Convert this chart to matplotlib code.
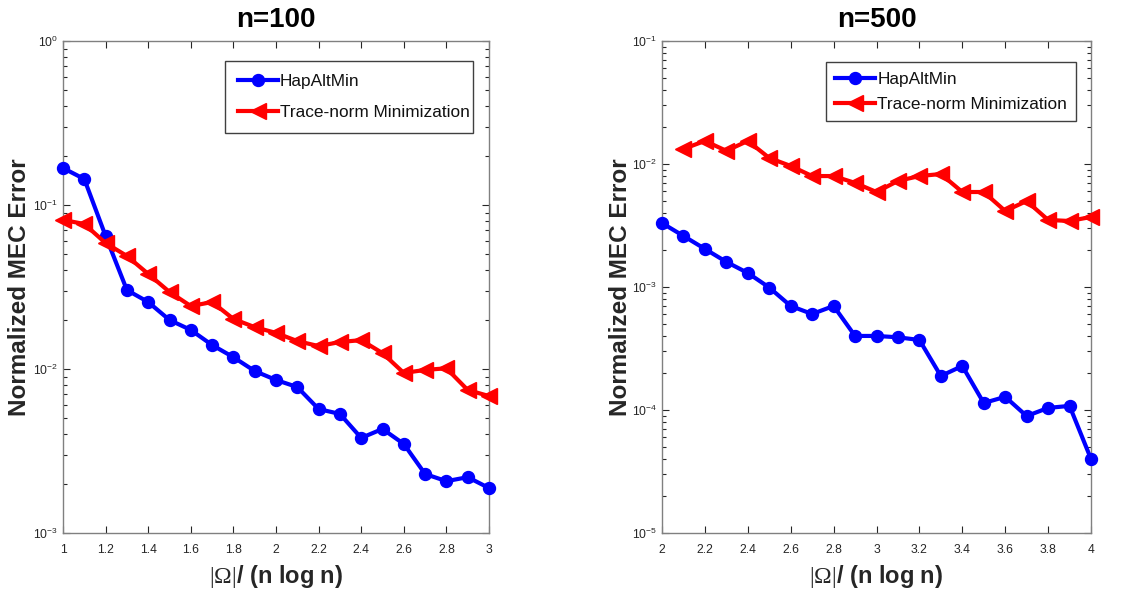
import matplotlib
matplotlib.use("Agg")
import matplotlib.pyplot as plt
import numpy as np
from matplotlib.ticker import LogLocator, FixedLocator, NullFormatter

plt.rcParams['font.family'] = ['Liberation Sans', 'DejaVu Sans']
plt.rcParams['mathtext.fontset'] = 'custom'
plt.rcParams['mathtext.rm'] = 'Liberation Serif'
plt.rcParams['mathtext.it'] = 'Liberation Serif:italic'
plt.rcParams['mathtext.bf'] = 'Liberation Serif:bold'

# ---- data ----
x_n100 = [1.0, 1.1, 1.2, 1.3, 1.4, 1.5, 1.6, 1.7, 1.8, 1.9, 2.0,
          2.1, 2.2, 2.3, 2.4, 2.5, 2.6, 2.7, 2.8, 2.9, 3.0]
hap_n100 = [0.168, 0.144, 0.0647, 0.0303, 0.0256, 0.0199, 0.0173, 0.0140, 0.0118, 0.00972, 0.00857,
            0.00776, 0.00570, 0.00532, 0.00380, 0.00431, 0.00349, 0.00229, 0.00207, 0.00219, 0.00188]
trace_n100 = [0.0811, 0.0766, 0.0586, 0.0489, 0.0380, 0.0295, 0.0242, 0.0256, 0.0202, 0.0180, 0.0166,
              0.0148, 0.0138, 0.0146, 0.0150, 0.0125, 0.00946, 0.00987, 0.0101, 0.00745, 0.00684]

x_n500_hap = [2.0, 2.1, 2.2, 2.3, 2.4, 2.5, 2.6, 2.7, 2.8, 2.9, 3.0,
              3.1, 3.2, 3.3, 3.4, 3.5, 3.6, 3.7, 3.8, 3.9, 4.0]
hap_n500 = [0.00331, 0.00260, 0.00204, 0.00160, 0.00130, 0.00099, 0.000701, 0.000603, 0.000701, 0.000400, 0.000400,
            0.000390, 0.000371, 0.000189, 0.000228, 0.000114, 0.000128, 0.0000893, 0.000104, 0.000108, 0.0000400]
x_n500_trace = [2.1, 2.2, 2.3, 2.4, 2.5, 2.6, 2.7, 2.8, 2.9, 3.0,
                3.1, 3.2, 3.3, 3.4, 3.5, 3.6, 3.7, 3.8, 3.9, 4.0]
trace_n500 = [0.01325, 0.0154, 0.0128, 0.0154, 0.0112, 0.00964, 0.00798, 0.00798, 0.00702, 0.00592,
              0.00728, 0.00798, 0.00829, 0.00592, 0.00592, 0.00415, 0.00500, 0.00351, 0.00344, 0.00371]

legend_labels = ["HapAltMin", "Trace-norm Minimization"]
titles = ["n=100", "n=500"]
xlabel = r"$|\Omega|$/ (n log n)"
ylabel = "Normalized MEC Error"

fig = plt.figure(figsize=(11.28, 5.91), dpi=100)
ax1 = fig.add_axes([63/1128, 58/591, 426/1128, 492/591])
ax2 = fig.add_axes([662/1128, 58/591, 429/1128, 492/591])

gray = '#262626'
panels = [
    (ax1, x_n100, hap_n100, x_n100, trace_n100, (1, 3), (1e-3, 1), np.arange(1, 3.01, 0.2),
     (225, 61, 473, 138), 0.95, 0.75, 1.5),
    (ax2, x_n500_hap, hap_n500, x_n500_trace, trace_n500, (2, 4), (1e-5, 1e-1), np.arange(2, 4.01, 0.2),
     (826, 62, 1076, 125), 0.6, 0.55, 0),
]
for i, (ax, xh, yh, xt, yt, xl, yl, xt_ticks, lbox, lspace, bpad, ylpad) in enumerate(panels):
    ax.plot(xh, yh, '-o', color='#0000ff', lw=3, ms=8.6, label=legend_labels[0], clip_on=False, zorder=3)
    ax.plot(xt, yt, '-<', color='#ff0000', lw=3, ms=11, label=legend_labels[1], clip_on=False, zorder=3)
    ax.set_yscale('log')
    ax.set_xlim(*xl)
    ax.set_ylim(*yl)
    ax.xaxis.set_major_locator(FixedLocator(xt_ticks))
    ax.set_xticklabels([f"{v:g}" for v in np.round(xt_ticks, 1)])
    ax.yaxis.set_major_locator(LogLocator(base=10, numticks=10))
    ax.yaxis.set_minor_locator(LogLocator(base=10, subs=np.arange(2, 10), numticks=10))
    ax.yaxis.set_minor_formatter(NullFormatter())
    ax.tick_params(which='both', direction='in', top=True, right=True, colors=gray,
                   labelsize=8.7, width=0.8)
    ax.tick_params(which='major', length=5)
    ax.tick_params(which='minor', length=3)
    ax.tick_params(axis='x', pad=8)
    for s in ax.spines.values():
        s.set_color('#808080')
        s.set_linewidth(1.0)
    ax.set_title(titles[i], fontsize=20, fontweight='bold', pad=10)
    ax.set_xlabel(xlabel, fontsize=17, fontweight='bold', color=gray, labelpad=5)
    ax.set_ylabel(ylabel, fontsize=17.5, fontweight='bold', color=gray, labelpad=ylpad)
    x0, y0, x1, y1 = lbox
    bb = ax.get_position()
    fx0 = (x0/1128 - bb.x0) / bb.width
    fx1 = (x1/1128 - bb.x0) / bb.width
    fy0 = ((591 - y1)/591 - bb.y0) / bb.height
    fy1 = ((591 - y0)/591 - bb.y0) / bb.height
    leg = ax.legend(loc='upper left', bbox_to_anchor=(fx0, fy0, fx1 - fx0, fy1 - fy0), mode='expand',
                    fontsize=12.4, fancybox=False, edgecolor='#404040', framealpha=1,
                    handlelength=2.3, handletextpad=0.12, borderaxespad=0, labelspacing=lspace,
                    borderpad=bpad)
    leg.get_frame().set_linewidth(1.0)
    for t in leg.get_texts():
        t.set_color('#111111')

fig.savefig('out.png', dpi=100)
